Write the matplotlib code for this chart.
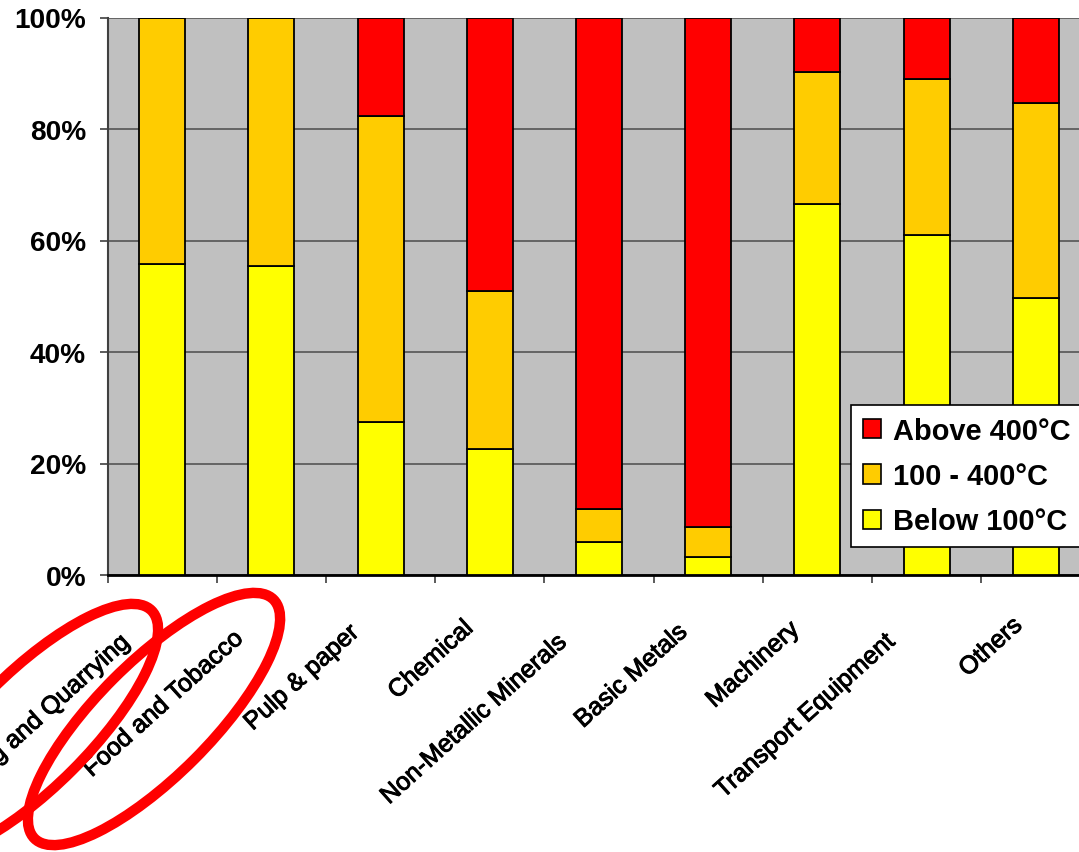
import numpy as np
import matplotlib.pyplot as plt
import matplotlib.patheffects as pe
from matplotlib.patches import Patch, Ellipse
from matplotlib.transforms import ScaledTranslation
from matplotlib.font_manager import FontProperties

# Share of industrial heat demand by temperature level (%)
sectors = ['Mining and Quarrying', 'Food and Tobacco', 'Pulp & paper', 'Chemical',
           'Non-Metallic Minerals', 'Basic Metals', 'Machinery',
           'Transport Equipment', 'Others']
below_100 = [55.8, 55.5, 27.4, 22.6, 6.0, 3.2, 66.5, 60.9, 49.6]
mid_100_400 = [44.2, 44.5, 55.0, 28.4, 5.8, 5.4, 23.8, 28.0, 35.0]
above_400 = [0.0, 0.0, 17.6, 49.0, 88.2, 91.4, 9.7, 11.1, 15.4]
y_ticks = [0, 20, 40, 60, 80, 100]

c_low, c_mid, c_high = '#FFFF00', '#FFCC00', '#FF0000'
font = 'Liberation Sans'

fig = plt.figure(figsize=(10.79, 8.53), dpi=100)
ax = fig.add_axes([107.6 / 1079, 277 / 853, 982.8 / 1079, 557.5 / 853])
ax.set_facecolor('#C0C0C0')

x = [i + 0.5 for i in range(len(sectors))]
bottom_mid = below_100
bottom_high = [a + b for a, b in zip(below_100, mid_100_400)]
kw = dict(width=0.42, edgecolor='black', linewidth=1.3, zorder=3)
ax.bar(x, below_100, color=c_low, **kw)
ax.bar(x, mid_100_400, bottom=bottom_mid, color=c_mid, **kw)
ax.bar(x, above_400, bottom=bottom_high, color=c_high, **kw)

ax.set_xlim(0, len(sectors))
ax.set_ylim(0, 100)
ax.set_axisbelow(True)
ax.yaxis.grid(True, color='#555555', linewidth=1.2)

for s in ['top', 'right']:
    ax.spines[s].set_visible(False)
ax.spines['left'].set_color('#404040')
ax.spines['left'].set_linewidth(1.5)
ax.spines['bottom'].set_linewidth(2)

ax.set_yticks(y_ticks)
ax.set_yticklabels([f'{v}%' for v in y_ticks], fontsize=20.2,
                   fontweight='bold', fontfamily=font)
ax.tick_params(axis='y', length=6, width=1.2, pad=9.5, colors='#404040',
               labelcolor='black')
ax.set_xticks(range(len(sectors) + 1))
ax.set_xticklabels([])
ax.tick_params(axis='x', length=6, width=1.2, colors='#404040')

# rotated category names under each bar; longer names sit a little further down
ang = 42
label_fp = FontProperties(family=font, size=18)
renderer = fig.canvas.get_renderer()
for xi, name in zip(x, sectors):
    w = renderer.get_text_width_height_descent(name, label_fp, ismath=False)[0]
    along = -0.156 * (w - 134)
    dx = -32 + along * np.cos(np.radians(ang))
    dy = -44 + along * np.sin(np.radians(ang))
    shift = ScaledTranslation(dx / 100, dy / 100, fig.dpi_scale_trans)
    ax.text(xi, 0, name, transform=ax.get_xaxis_transform() + shift,
            rotation=ang, rotation_mode='anchor', ha='right', va='top',
            fontproperties=label_fp, clip_on=False,
            path_effects=[pe.withStroke(linewidth=0.7, foreground='black')])

handles = [Patch(facecolor=c_high, edgecolor='black', linewidth=1.2),
           Patch(facecolor=c_mid, edgecolor='black', linewidth=1.2),
           Patch(facecolor=c_low, edgecolor='black', linewidth=1.2)]
leg = ax.legend(handles, ['Above 400°C', '100 - 400°C', 'Below 100°C'],
                loc='upper left', bbox_to_anchor=(851 / 1079, 1 - 406 / 853),
                bbox_transform=fig.transFigure, borderaxespad=0,
                fancybox=False, framealpha=1, edgecolor='black',
                borderpad=0.4, handlelength=0.65, handleheight=0.65,
                handletextpad=0.4, labelspacing=0.6,
                prop={'family': font, 'weight': 'bold', 'size': 20.9})
leg.get_frame().set_linewidth(1.2)
leg.set_zorder(5)

# red circles marking the first two sectors
for cx, cy in [(32, 731), (154, 720)]:
    fig.add_artist(Ellipse((cx / 100, (853 - cy) / 100), 3.38, 1.14, angle=45,
                           transform=fig.dpi_scale_trans, fill=False,
                           edgecolor='#FF0000', linewidth=7.5))

fig.savefig('out.png', dpi=100)
